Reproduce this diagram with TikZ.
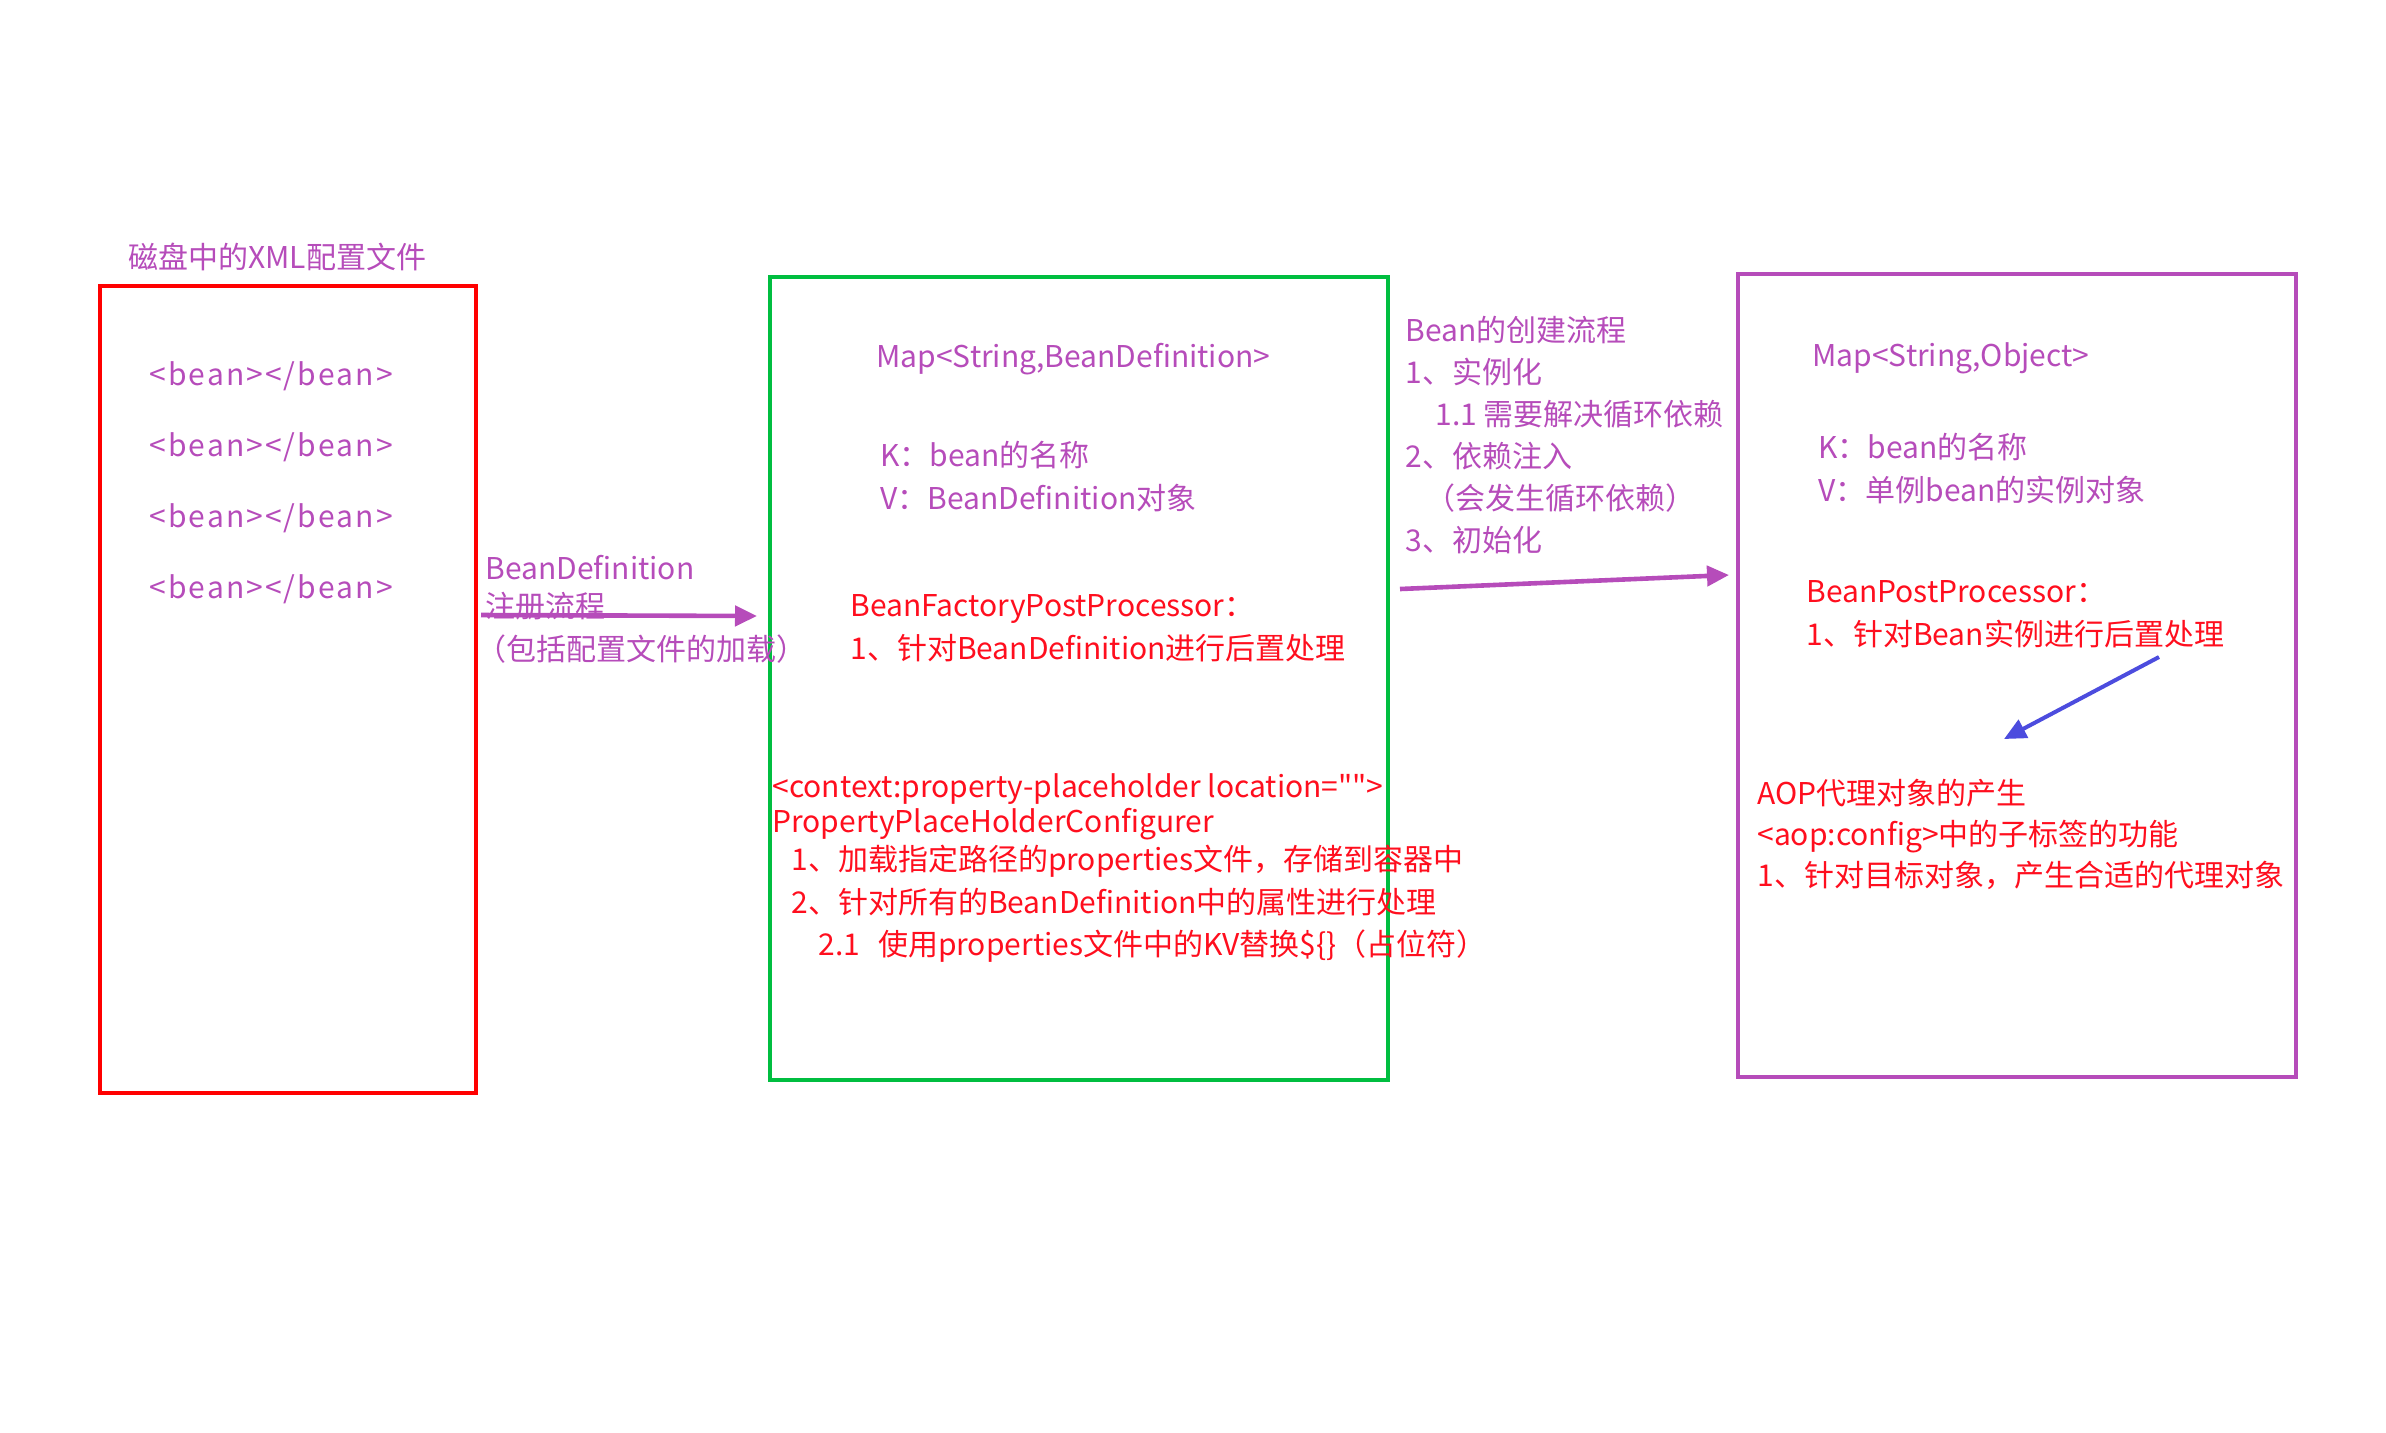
\documentclass[tikz,border=0pt]{standalone}
\usepackage{fontspec}
\setmainfont{Noto Sans CJK SC}
\usetikzlibrary{arrows.meta,positioning}
\definecolor{beanpurple}{RGB}{182,76,186}
\definecolor{hintred}{RGB}{255,14,30}
\definecolor{boxred}{RGB}{255,0,0}
\definecolor{boxgreen}{RGB}{0,190,64}
\definecolor{aopblue}{RGB}{76,76,222}

\begin{document}
\begin{tikzpicture}[x=0.5pt,y=-0.5pt,>={Triangle[length=11pt,width=10pt]}]
			\tikzset{box/.style={draw,rectangle,line width=2pt,inner sep=0pt},
        txt/.style={anchor=west,inner sep=0pt,yshift=-1.8pt,align=left,text=beanpurple,font=\fontsize{15}{21}\selectfont},
        redtxt/.style={txt,text=hintred},
        tagtxt/.style={txt,font=\fontsize{15}{21}\selectfont\addfontfeature{LetterSpace=7}},
        flow/.style={draw,->,line width=2.3pt,beanpurple},
        }
			\useasboundingbox (0,0) rectangle (2386,1432);

			% the three stores
			\node [box,boxred,minimum width=188pt,minimum height=403.5pt] (xmlbox) at (288,689.5) {};
			\node [box,boxgreen,minimum width=309pt,minimum height=401.5pt] (defbox) at (1079,678.5) {};
			\node [box,beanpurple,line width=1.7pt,minimum width=279pt,minimum height=401.5pt] (objbox) at (2017,675.5) {};

			% xml file
			\node [txt] (xmltitle) at (128,253) {磁盘中的XML配置文件};
			\node [tagtxt] (bean1) at (149,373) {<bean></bean>};
			\node [tagtxt,below=33.7pt of bean1.west,anchor=west,on grid] (bean2) {<bean></bean>};
			\node [tagtxt,below=33.7pt of bean2.west,anchor=west,on grid] (bean3) {<bean></bean>};
			\node [tagtxt,below=33.7pt of bean3.west,anchor=west,on grid] (bean4) {<bean></bean>};

			% registration
			\node [txt,font=\fontsize{15}{19}\selectfont] (regtxt) at (485,584) {BeanDefinition\\注册流程};
			\node [txt] (loadtxt) at (476,645) {（包括配置文件的加载）};
			\coordinate (regstart) at (481,615);
			\coordinate (regend) at (757,616);
			\path[flow] (regstart) -- (regend);

			% bean definitions
			\node [txt] (defmap) at (876,356) {Map<String,BeanDefinition>};
			\node [txt,font=\fontsize{15}{21.5}\selectfont] (defkv) at (880,473) {K：bean的名称\\V：BeanDefinition对象};
			\node [redtxt,font=\fontsize{15}{21.5}\selectfont] (bfpp) at (850,625) {BeanFactoryPostProcessor：\\1、针对BeanDefinition进行后置处理};
			\node [redtxt,font=\fontsize{15}{17.5}\selectfont] (placeholder) at (772,864) {<context:property-placeholder location=\textquotedbl\textquotedbl>\\
				PropertyPlaceHolderConfigurer\\[1.5pt]
				\hspace{9.5pt}1、加载指定路径的properties文件，存储到容器中\\[4pt]
				\hspace{9.5pt}2、针对所有的BeanDefinition中的属性进行处理\\[3.5pt]
				\hspace{23pt}2.1\hspace{0.6em}使用properties文件中的KV替换\$\{\}（占位符）};

			% bean creation
			\node [txt] (create) at (1405,431) {Bean的创建流程\\1、实例化\\
				\hspace{15pt}1.1 需要解决循环依赖\\2、依赖注入\\
				\hspace{10pt}（会发生循环依赖）\\3、初始化};
			\coordinate (createstart) at (1400,589);
			\coordinate (createend) at (1729,575);
			\path[flow] (createstart) -- (createend);

			% singleton objects
			\node [txt] (objmap) at (1812,355) {Map<String,Object>};
			\node [txt,font=\fontsize{15}{21.5}\selectfont] (objkv) at (1818,465) {K：bean的名称\\V：单例bean的实例对象};
			\node [redtxt,font=\fontsize{15}{21.5}\selectfont] (bpp) at (1806,611) {BeanPostProcessor：\\1、针对Bean实例进行后置处理};
			\node [redtxt,font=\fontsize{15}{20.5}\selectfont] (aop) at (1757,831) {AOP代理对象的产生\\<aop:config>中的子标签的功能\\1、针对目标对象，产生合适的代理对象};
			\coordinate (proxystart) at (2159,657);
			\coordinate (proxyend) at (2004,739);
			\path[draw,->,line width=2pt,aopblue] (proxystart) -- (proxyend);

		\end{tikzpicture}
\end{document}
